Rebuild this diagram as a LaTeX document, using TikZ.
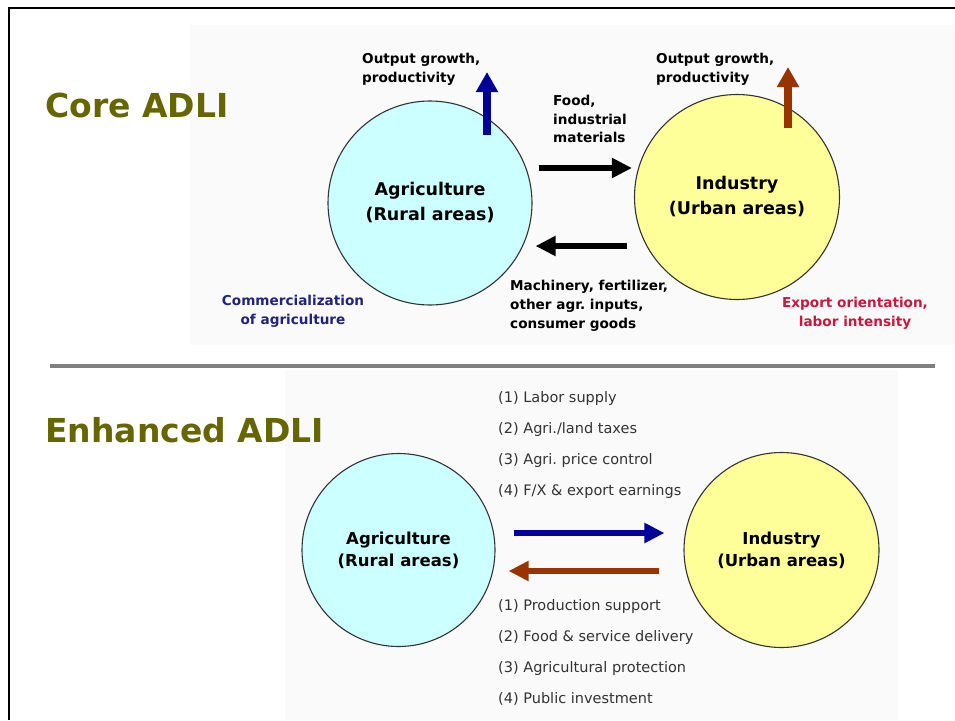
\documentclass[tikz,border=0pt]{standalone}
\usepackage{fontspec}
\setmainfont{DejaVu Sans}
\usepackage{xcolor}
\usepackage{tikz}
\usetikzlibrary{positioning,calc,arrows.meta}
\frenchspacing

\definecolor{titleolive}{HTML}{666600}
\definecolor{agricyan}{HTML}{CCFFFF}
\definecolor{indyellow}{HTML}{FFFF99}
\definecolor{growblue}{HTML}{000099}
\definecolor{growbrown}{HTML}{993300}
\definecolor{commblue}{HTML}{22227F}
\definecolor{exportred}{HTML}{C8183F}
\definecolor{panelgrey}{HTML}{FAFAFA}
\definecolor{sepgrey}{HTML}{808080}
\definecolor{listgrey}{HTML}{333333}

\begin{document}
\begin{tikzpicture}[x=1pt, y=-1pt, every node/.style={align=center, inner sep=0pt},
    sector/.style={circle, draw=black!80, line width=1.1pt, font=\bfseries\fontsize{17.5}{25}\selectfont},
    title/.style={anchor=base west, text=titleolive, font=\bfseries\fontsize{33}{40}\selectfont},
    lbl/.style={anchor=north west, align=left, font=\bfseries\fontsize{13.6}{19}\selectfont},
    itemlist/.style={anchor=north west, align=left, text=listgrey, font=\fontsize{14.5}{31}\selectfont},
    bigarrow/.style={-{Triangle[length=20pt,width=21pt]}, line width=7.5pt},
    flowarrow/.style={-{Triangle[length=20pt,width=19pt]}, line width=6pt}]
    \useasboundingbox (0,0) rectangle (955,720);
    \fill[panelgrey] (190,25) rectangle (955,345);
    \fill[panelgrey] (285,370) rectangle (898,720);
    \draw[line width=2pt] (9,720) -- (9,8) -- (955,8);
    \draw[sepgrey, line width=3.5pt] (50,366) -- (935,366);

    \node[title] (core) at (45,117) {Core ADLI};
    \node[title] (enh) at (45,442) {Enhanced ADLI};

    \node[sector, fill=agricyan, minimum size=204pt] (agriA) at (430,203) {Agriculture\\(Rural areas)};
    \node[sector, fill=indyellow, minimum size=205pt] (indA) at (737,197) {Industry\\(Urban areas)};
    \node[sector, fill=agricyan, minimum size=193pt, font=\bfseries\fontsize{16.5}{22}\selectfont] (agriB) at (398.5,550) {Agriculture\\(Rural areas)};
    \node[sector, fill=indyellow, minimum size=195pt, font=\bfseries\fontsize{16.5}{22}\selectfont] (indB) at (781.5,550) {Industry\\(Urban areas)};

    \node[lbl] (outA) at (362,53) {Output growth,\\productivity};
    \node[lbl] (outB) at (656,53) {Output growth,\\productivity};
    \node[lbl, font=\bfseries\fontsize{13.6}{18.5}\selectfont] (food) at (553,95) {Food,\\industrial\\materials};
    \node[lbl] (mach) at (510,280) {Machinery, fertilizer,\\other agr. inputs,\\consumer goods};
    \node[lbl, anchor=north, align=center, text=commblue] (comm) at (293,295) {Commercialization\\of agriculture};
    \node[lbl, anchor=north, align=center, text=exportred] (export) at (855,297) {Export orientation,\\labor intensity};

    \node[itemlist] (taxlist) at (498,391) {(1) Labor supply\\(2) Agri./land taxes\\(3) Agri. price control\\(4) F/X \& export earnings};
    \node[itemlist] (supportlist) at (498,599) {(1) Production support\\(2) Food \& service delivery\\(3) Agricultural protection\\(4) Public investment};

    \coordinate (growA) at (487,72);
    \coordinate (growB) at (788,67);
    \coordinate (fwdrowA) at (0,168);
    \coordinate (backrowA) at (0,246);
    \coordinate (fwdrowB) at (0,533);
    \coordinate (backrowB) at (0,571);

    \draw[bigarrow, growblue] ($(agriA.center)+(57,-68)$) -- (growA);
    \draw[bigarrow, growbrown] ($(indA.center)+(51,-69)$) -- (growB);
    \draw[flowarrow, shorten <=6pt, shorten >=2pt] (agriA.east |- fwdrowA) -- (indA.west |- fwdrowA);
    \draw[flowarrow, shorten <=7pt, shorten >=3pt] (indA.west |- backrowA) -- (agriA.east |- backrowA);
    \draw[flowarrow, growblue, shorten <=18pt, shorten >=19pt] (agriB.east |- fwdrowB) -- (indB.west |- fwdrowB);
    \draw[flowarrow, growbrown, shorten <=24pt, shorten >=13pt] (indB.west |- backrowB) -- (agriB.east |- backrowB);
\end{tikzpicture}
\end{document}
